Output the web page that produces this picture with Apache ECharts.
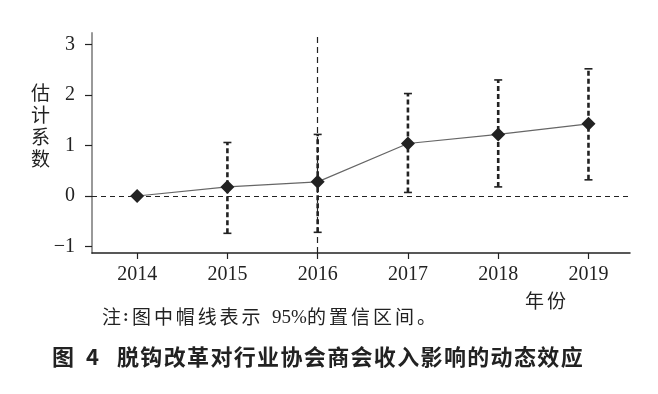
<!DOCTYPE html>
<html><head><meta charset="utf-8">
<script src="https://cdn.jsdelivr.net/npm/echarts@6/dist/echarts.min.js"></script>
<style>html,body{margin:0;padding:0;background:#fff}#c{width:658px;height:394px}</style>
</head><body><div id="c"></div>
<script>
const years = [2014, 2015, 2016, 2017, 2018, 2019];
const coef = [0, 0.18, 0.28, 1.04, 1.22, 1.43];
const lower = [null, -0.74, -0.72, 0.07, 0.18, 0.32];
const upper = [null, 1.06, 1.22, 2.03, 2.30, 2.52];
const yTicks = [-1, 0, 1, 2, 3];
const eventYear = 2016;
const yName = '估计系数';
const xName = '年份';
const notePre = '注';
const noteA = '图中帽线表示';
const noteNum = '95%';
const noteB = '的置信区间。';
const figNo = '图 4';
const titleText = '脱钩改革对行业协会商会收入影响的动态效应';

const serif = '"Liberation Serif", "DejaVu Serif", serif';
const cjk = '"Noto Sans CJK SC", sans-serif';

function spaced(str, x, y, font, pitch, vertical) {
  return Array.from(str).map((ch, i) => ({
    type: 'text',
    x: vertical ? x : x + i * pitch,
    y: vertical ? y + i * pitch : y,
    style: {text: ch, font: font, fill: '#222', textVerticalAlign: 'middle'}
  }));
}

const noteFont = '19px ' + cjk;
const graphics = [].concat(
  spaced(yName, 31, 93, '19px ' + cjk, 22, true),
  spaced(xName, 525, 301, '19px ' + cjk, 22),
  spaced(notePre, 102, 317, noteFont, 22),
  [{type: 'text', x: 123, y: 317, style: {text: ':', font: 'bold 17px ' + serif, fill: '#222', textVerticalAlign: 'middle'}}],
  spaced(noteA, 132, 317, noteFont, 21.9),
  [{type: 'text', x: 272, y: 318, style: {text: noteNum, font: '19px ' + serif, fill: '#222', textVerticalAlign: 'middle'}}],
  spaced(noteB, 307, 317, noteFont, 22),
  [{type: 'text', x: 52, y: 357, style: {text: '图', font: 'bold 22px ' + cjk, fill: '#222', textVerticalAlign: 'middle'}},
   {type: 'text', x: 86, y: 357, style: {text: '4', font: 'bold 22px ' + cjk, fill: '#222', textVerticalAlign: 'middle'}}],
  spaced(titleText, 117, 357, 'bold 22px ' + cjk, 23.35)
);

const chart = echarts.init(document.getElementById('c'));
const errData = years.map((y, i) => [y, lower[i], upper[i]]).filter(d => d[1] !== null);
chart.setOption({
  animation: false,
  grid: {left: 92, right: 28, top: 33, bottom: 141},
  xAxis: {
    type: 'value', min: 2013.5, max: 2019.46,
    axisLine: {show: true, onZero: false, lineStyle: {color: '#222', width: 1.5}},
    axisTick: {show: true, length: 6, customValues: years, lineStyle: {color: '#222', width: 1.2}},
    axisLabel: {customValues: years, color: '#222', fontFamily: serif, fontSize: 20, margin: 12, formatter: v => String(v)},
    splitLine: {show: false}
  },
  yAxis: {
    type: 'value', min: -1.13, max: 3.23,
    axisLine: {show: true, onZero: false, lineStyle: {color: '#999', width: 2}},
    axisTick: {show: true, length: 7, customValues: yTicks, lineStyle: {color: '#222', width: 1.2}},
    axisLabel: {customValues: yTicks, color: '#222', fontFamily: serif, fontSize: 20, margin: 17,
      formatter: v => v < 0 ? '\u2212' + Math.abs(v) : String(v)},
    splitLine: {show: false}
  },
  series: [
    {
      type: 'custom', z: 3,
      data: errData,
      renderItem: function (params, api) {
        const x = api.value(0);
        const lo = api.coord([x, api.value(1)]);
        const hi = api.coord([x, api.value(2)]);
        const hw = 4;
        const st = {stroke: '#222', lineWidth: 1.6};
        return {type: 'group', children: [
          {type: 'line', shape: {x1: lo[0], y1: lo[1], x2: hi[0], y2: hi[1]}, style: {stroke: '#222', lineWidth: 2.6, lineDash: [5, 3]}},
          {type: 'line', shape: {x1: lo[0] - hw, y1: lo[1], x2: lo[0] + hw, y2: lo[1]}, style: st},
          {type: 'line', shape: {x1: hi[0] - hw, y1: hi[1], x2: hi[0] + hw, y2: hi[1]}, style: st}
        ]};
      }
    },
    {
      type: 'line', z: 4,
      data: years.map((y, i) => [y, coef[i]]),
      symbol: 'diamond', symbolSize: 14,
      itemStyle: {color: '#222'},
      lineStyle: {color: '#666', width: 1.2},
      markLine: {
        silent: true, symbol: 'none', label: {show: false},
        data: [
          {yAxis: 0, lineStyle: {color: '#222', type: [5, 4], width: 1.2}},
          {xAxis: eventYear, lineStyle: {color: '#222', type: [6, 4], width: 1.2}}
        ]
      }
    }
  ],
  graphic: graphics
});
</script></body></html>
